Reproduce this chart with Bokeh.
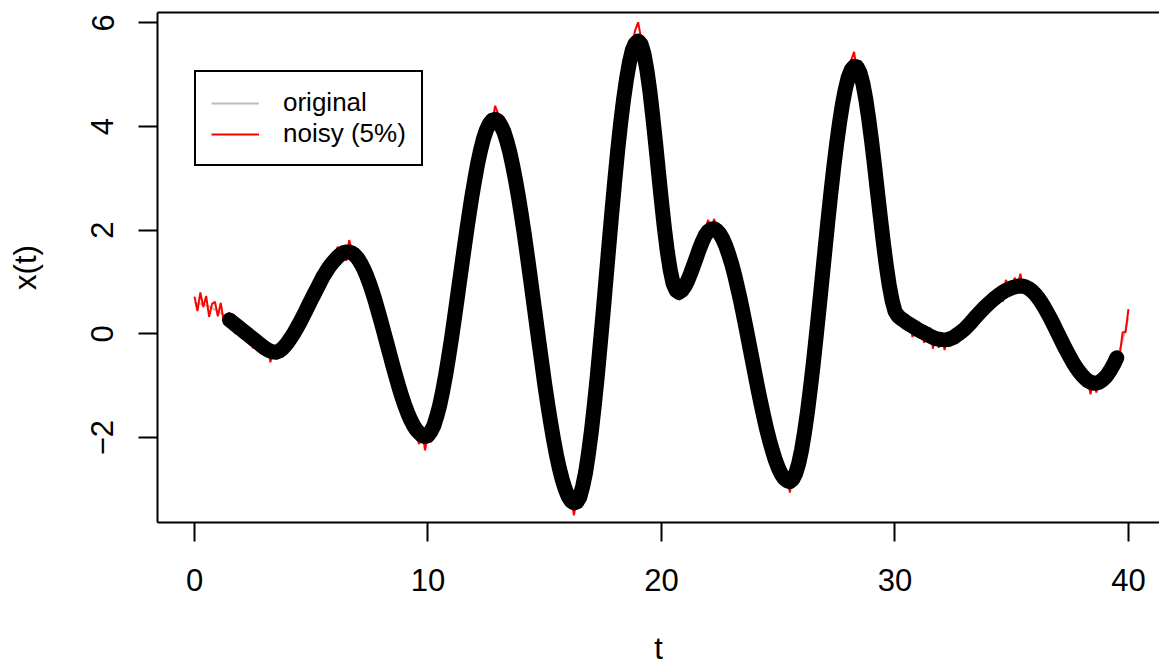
from bokeh.plotting import figure
from bokeh.models import Range1d, LinearAxis, FixedTicker, Legend, LegendItem
from bokeh.embed import file_html
from bokeh.resources import INLINE

# ---------------- data ----------------
t_step_original = 0.125
x_original = [
    0.60, 0.59, 0.58, 0.565, 0.55, 0.525, 0.50, 0.47, 0.44, 0.40, 0.36, 0.315, 0.27, 0.225, 0.18, 0.135,
    0.09, 0.045, 0.00, -0.045, -0.09, -0.135, -0.18, -0.225, -0.27, -0.305, -0.33, -0.35, -0.35, -0.33, -0.29, -0.23,
    -0.16, -0.075, 0.01, 0.11, 0.21, 0.32, 0.43, 0.545, 0.66, 0.77, 0.88, 0.99, 1.10, 1.19, 1.28, 1.355,
    1.42, 1.48, 1.53, 1.565, 1.58, 1.58, 1.56, 1.515, 1.45, 1.36, 1.25, 1.12, 0.97, 0.80, 0.62, 0.42,
    0.22, 0.01, -0.20, -0.41, -0.62, -0.82, -1.02, -1.20, -1.37, -1.52, -1.65, -1.76, -1.85, -1.91, -1.96, -1.98,
    -1.96, -1.88, -1.77, -1.59, -1.38, -1.11, -0.81, -0.47, -0.11, 0.28, 0.68, 1.09, 1.49, 1.89, 2.27, 2.64,
    2.97, 3.28, 3.54, 3.76, 3.93, 4.05, 4.12, 4.14, 4.11, 4.02, 3.90, 3.72, 3.51, 3.25, 2.96, 2.64,
    2.29, 1.92, 1.52, 1.11, 0.69, 0.27, -0.15, -0.56, -0.97, -1.35, -1.70, -2.03, -2.33, -2.59, -2.81, -2.99,
    -3.13, -3.22, -3.26, -3.24, -3.15, -2.94, -2.67, -2.30, -1.87, -1.37, -0.82, -0.21, 0.41, 1.06, 1.71, 2.35,
    2.96, 3.54, 4.06, 4.52, 4.91, 5.23, 5.47, 5.60, 5.65, 5.59, 5.40, 5.09, 4.69, 4.20, 3.67, 3.11,
    2.56, 2.04, 1.59, 1.23, 0.97, 0.84, 0.80, 0.84, 0.92, 1.03, 1.17, 1.32, 1.48, 1.64, 1.78, 1.90,
    1.98, 2.02, 2.03, 1.99, 1.93, 1.83, 1.70, 1.54, 1.36, 1.15, 0.91, 0.66, 0.39, 0.11, -0.18, -0.47,
    -0.76, -1.05, -1.32, -1.58, -1.83, -2.05, -2.25, -2.43, -2.58, -2.70, -2.78, -2.83, -2.85, -2.80, -2.69, -2.50,
    -2.24, -1.90, -1.51, -1.06, -0.58, -0.05, 0.49, 1.05, 1.61, 2.17, 2.70, 3.20, 3.66, 4.07, 4.43, 4.72,
    4.95, 5.09, 5.16, 5.15, 5.04, 4.83, 4.53, 4.15, 3.72, 3.24, 2.74, 2.25, 1.77, 1.33, 0.95, 0.65,
    0.44, 0.35, 0.30, 0.26, 0.22, 0.185, 0.15, 0.115, 0.08, 0.05, 0.02, -0.01, -0.04, -0.065, -0.09, -0.10,
    -0.11, -0.115, -0.11, -0.09, -0.07, -0.03, 0.01, 0.055, 0.10, 0.16, 0.22, 0.285, 0.35, 0.41, 0.47, 0.525,
    0.58, 0.63, 0.68, 0.725, 0.77, 0.805, 0.84, 0.865, 0.89, 0.905, 0.92, 0.925, 0.92, 0.90, 0.87, 0.825,
    0.77, 0.70, 0.62, 0.53, 0.43, 0.33, 0.22, 0.105, -0.01, -0.125, -0.24, -0.345, -0.45, -0.55, -0.64, -0.72,
    -0.79, -0.85, -0.90, -0.93, -0.95, -0.945, -0.93, -0.89, -0.84, -0.77, -0.68, -0.58, -0.46, -0.30, -0.12, 0.09,
    0.30,
]

t_step_noisy = 0.125
x_noisy = [
    0.72, 0.44, 0.80, 0.52, 0.73, 0.33, 0.58, 0.62, 0.34, 0.60, 0.24, 0.37, 0.41, 0.15, 0.00, 0.24,
    0.03, 0.185, -0.11, 0.025, -0.28, -0.105, -0.02, -0.355, -0.31, -0.19, -0.55, -0.25, -0.50, -0.30, -0.12, -0.315,
    -0.08, -0.205, 0.20, 0.09, 0.05, 0.44, 0.48, 0.335, 0.76, 0.70, 1.03, 0.88, 1.12, 1.37, 1.14, 1.41,
    1.33, 1.685, 1.48, 1.685, 1.41, 1.81, 1.60, 1.385, 1.65, 1.27, 1.36, 0.92, 1.04, 0.935, 0.52, 0.45,
    0.37, -0.06, -0.18, -0.59, -0.53, -0.70, -1.16, -1.145, -1.57, -1.35, -1.68, -1.67, -1.98, -2.125, -1.86, -2.245,
    -1.90, -2.09, -1.64, -1.58, -1.47, -0.92, -0.97, -0.39, 0.00, 0.165, 0.72, 1.025, 1.68, 1.78, 2.35, 2.47,
    3.07, 3.215, 3.71, 3.605, 3.99, 4.245, 4.04, 4.40, 4.25, 3.895, 4.10, 3.655, 3.60, 3.065, 2.99, 2.745,
    2.11, 1.955, 1.63, 1.015, 0.85, 0.25, -0.29, -0.48, -0.84, -1.535, -1.63, -2.125, -2.31, -2.42, -2.97, -3.03,
    -3.25, -3.105, -3.50, -3.165, -3.30, -2.80, -2.74, -2.08, -1.97, -1.325, -0.68, -0.335, 0.47, 0.98, 1.88, 2.295,
    3.09, 3.41, 4.11, 4.325, 5.12, 5.16, 5.59, 5.86, 6.01, 5.705, 5.34, 5.185, 4.58, 4.26, 3.48, 3.215,
    2.49, 2.235, 1.46, 1.32, 0.88, 1.085, 0.65, 0.93, 1.03, 0.995, 1.35, 1.205, 1.51, 1.72, 1.61, 2.02,
    2.20, 1.925, 2.22, 2.04, 1.79, 1.915, 1.67, 1.68, 1.18, 1.185, 1.03, 0.56, 0.40, -0.055, -0.10, -0.34,
    -0.87, -0.97, -1.34, -1.435, -2.00, -1.95, -2.31, -2.295, -2.78, -2.65, -2.94, -2.735, -3.06, -2.66, -2.74, -2.595,
    -2.15, -1.995, -1.36, -1.085, -0.52, -0.225, 0.62, 1.07, 1.52, 2.325, 2.56, 3.23, 3.76, 3.975, 4.59, 4.66,
    5.09, 5.275, 5.44, 5.05, 5.23, 4.685, 4.61, 3.995, 3.83, 3.17, 2.89, 2.085, 1.81, 1.48, 0.86, 0.765,
    0.32, 0.55, 0.22, 0.36, 0.06, 0.315, -0.06, 0.175, -0.06, 0.16, -0.17, 0.03, 0.12, -0.285, 0.00, -0.27,
    0.02, -0.31, -0.04, -0.24, 0.03, -0.12, 0.18, -0.065, 0.13, 0.30, 0.04, 0.365, 0.29, 0.60, 0.36, 0.575,
    0.44, 0.72, 0.84, 0.655, 0.89, 0.625, 1.04, 0.915, 0.78, 1.085, 0.94, 1.16, 0.79, 1.045, 0.79, 0.93,
    0.71, 0.825, 0.47, 0.565, 0.53, 0.205, 0.29, 0.015, 0.15, -0.165, -0.37, -0.235, -0.52, -0.525, -0.50, -0.875,
    -0.71, -1.015, -0.85, -1.165, -0.83, -1.13, -0.90, -0.985, -0.70, -0.84, -0.57, -0.62, -0.37, -0.42, 0.03, 0.03,
    0.48,
]

smooth_window = (1.5, 39.5)       # t-range covered by the black (smoothed) curve

x_ticks = [0, 10, 20, 30, 40]
y_ticks = [-2, 0, 2, 4, 6]
y_tick_labels = {-2: "\u22122", 0: "0", 2: "2", 4: "4", 6: "6"}
legend_labels = ["original", "noisy (5%)"]
x_title = "t"
y_title = "x(t)"

# ---------------- derived series ----------------
t_original = [i * t_step_original for i in range(len(x_original))]
t_noisy = [i * t_step_noisy for i in range(len(x_noisy))]
t_smooth = [t for t in t_original if smooth_window[0] <= t <= smooth_window[1]]
x_smooth = [x for t, x in zip(t_original, x_original) if smooth_window[0] <= t <= smooth_window[1]]

FONT = "Liberation Sans"

p = figure(width=1159, height=669, output_backend="svg", toolbar_location=None,
           x_range=Range1d(-1.585, 41.33), y_range=Range1d(-3.637, 6.199),
           min_border_left=157, min_border_right=0, min_border_top=12, min_border_bottom=147,
           x_axis_location=None, y_axis_location=None)
p.outline_line_color = None
p.xgrid.visible = False
p.ygrid.visible = False
p.background_fill_color = "white"
p.border_fill_color = "white"


def style_axis(ax, size="31px", standoff=20):
    ax.axis_line_color = "black"
    ax.axis_line_width = 2
    ax.major_tick_line_color = "black"
    ax.major_tick_line_width = 2
    ax.major_tick_out = 19
    ax.major_tick_in = 0
    ax.minor_tick_out = 0
    ax.minor_tick_in = 0
    ax.major_label_text_font = FONT
    ax.major_label_text_font_size = size
    ax.major_label_text_color = "black"
    ax.major_label_standoff = standoff
    ax.axis_label_text_font = FONT
    ax.axis_label_text_font_size = "31px"
    ax.axis_label_text_font_style = "normal"
    ax.axis_label_text_color = "black"


xaxis = LinearAxis(ticker=FixedTicker(ticks=x_ticks), axis_label=x_title)
style_axis(xaxis, standoff=27)
xaxis.axis_label_standoff = 37
p.add_layout(xaxis, "below")

yaxis = LinearAxis(ticker=FixedTicker(ticks=y_ticks), axis_label=y_title)
style_axis(yaxis, standoff=25)
yaxis.major_label_orientation = "vertical"
yaxis.major_label_overrides = y_tick_labels
yaxis.axis_label_standoff = 46
p.add_layout(yaxis, "left")

top = LinearAxis(ticker=FixedTicker(ticks=[]))
style_axis(top, size="0px", standoff=0)
top.major_tick_out = 0
p.add_layout(top, "above")

r_orig = p.line(t_original, x_original, line_color="#BEBEBE", line_width=2)
r_noisy = p.line(t_noisy, x_noisy, line_color="#FF0000", line_width=2)
p.line(t_smooth, x_smooth, line_color="black", line_width=15,
       line_cap="round", line_join="round")

legend = Legend(items=[LegendItem(label=legend_labels[0], renderers=[r_orig]),
                       LegendItem(label=legend_labels[1], renderers=[r_noisy])],
                location=(37, 356), margin=0, padding=15, spacing=0,
                glyph_width=48, glyph_height=28, label_height=28, label_standoff=24,
                label_text_font=FONT, label_text_font_size="26px", label_text_color="black",
                border_line_color="black", border_line_width=2, border_line_alpha=1.0,
                background_fill_color="white", background_fill_alpha=1.0)
p.add_layout(legend)

open("out.html", "w").write(file_html(p, INLINE))
